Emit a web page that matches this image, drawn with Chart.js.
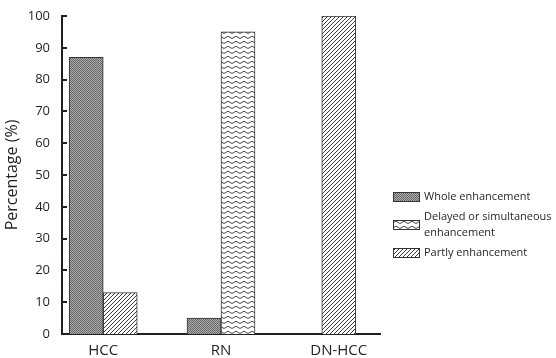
<!DOCTYPE html>
<html><head><meta charset="utf-8">
<script src="https://cdn.jsdelivr.net/npm/chart.js@4"></script>
<style>html,body{margin:0;padding:0;background:#fff}#wrap{width:556px;height:358px}</style>
</head><body><div id="wrap"><canvas id="c" width="556" height="358"></canvas></div>
<script>
// ---- data ----
const categories = ['HCC', 'RN', 'DN-HCC'];
const wholeEnhancement = [87, 5, null];
const delayedEnhancement = [null, 95, null];
const partlyEnhancement = [13, null, 100];
const seriesNames = ['Whole enhancement', 'Delayed or simultaneous enhancement', 'Partly enhancement'];
const yTicks = [0, 10, 20, 30, 40, 50, 60, 70, 80, 90, 100];
const yTitle = 'Percentage (%)';

const INK = '#231f20';
const FONT = "'Open Sans', 'Noto Sans', sans-serif";

function makePattern(kind) {
  const c = document.createElement('canvas');
  let ctx;
  if (kind === 'checker') {
    c.width = 2; c.height = 2; ctx = c.getContext('2d');
    ctx.fillStyle = '#adadad'; ctx.fillRect(0, 0, 2, 2);
    ctx.fillStyle = '#676767'; ctx.fillRect(0, 0, 1, 1); ctx.fillRect(1, 1, 1, 1);
  } else if (kind === 'zigzag') {
    c.width = 8; c.height = 5; ctx = c.getContext('2d');
    ctx.fillStyle = '#fff'; ctx.fillRect(0, 0, 8, 5);
    ctx.strokeStyle = '#4a4a4a'; ctx.lineWidth = 1;
    ctx.beginPath(); ctx.moveTo(0, 3.5); ctx.lineTo(4, 1.2); ctx.lineTo(8, 3.5); ctx.stroke();
  } else {
    c.width = 4; c.height = 4; ctx = c.getContext('2d');
    ctx.fillStyle = '#fff'; ctx.fillRect(0, 0, 4, 4);
    ctx.strokeStyle = '#3a3a3a'; ctx.lineWidth = 1;
    ctx.beginPath();
    ctx.moveTo(-1, 5); ctx.lineTo(5, -1);
    ctx.moveTo(-1, 1); ctx.lineTo(1, -1);
    ctx.moveTo(3, 5); ctx.lineTo(5, 3);
    ctx.stroke();
  }
  return c.getContext('2d').createPattern(c, 'repeat');
}
const patterns = [makePattern('checker'), makePattern('zigzag'), makePattern('hatch')];

function toPoints(arr) { return categories.map((c, i) => ({ x: i, y: arr[i] })); }

const seriesValues = [wholeEnhancement, delayedEnhancement, partlyEnhancement];
const datasets = seriesValues.map((vals, k) => ({
  label: seriesNames[k],
  data: toPoints(vals),
  backgroundColor: patterns[k],
  borderColor: '#333',
  borderWidth: 1,
  barThickness: 34,
  skipNull: true
}));

// inward tick marks on y axis
const inwardTicks = {
  id: 'inwardTicks',
  afterDatasetsDraw(chart) {
    const y = chart.scales.y, ctx = chart.ctx, left = chart.chartArea.left;
    ctx.save();
    ctx.strokeStyle = INK; ctx.lineWidth = 2;
    yTicks.forEach(v => {
      const py = Math.round(y.getPixelForValue(v));
      ctx.beginPath(); ctx.moveTo(left, py); ctx.lineTo(left + 5, py); ctx.stroke();
    });
    ctx.restore();
  }
};

// legend drawn to the right of the plot
const sideLegend = {
  id: 'sideLegend',
  afterDraw(chart) {
    const ctx = chart.ctx;
    ctx.save();
    ctx.font = '11px ' + FONT;
    const lineH = 16, gap = 4, maxW = 132;
    const x0 = chart.chartArea.right + 13;
    let top = 188.5;
    seriesNames.forEach((name, k) => {
      const words = name.split(' ');
      const lines = [];
      let cur = '';
      words.forEach(w => {
        const t = cur ? cur + ' ' + w : w;
        if (ctx.measureText(t).width > maxW && cur) { lines.push(cur); cur = w; } else cur = t;
      });
      lines.push(cur);
      const h = lines.length * lineH;
      const cy = top + h / 2;
      ctx.fillStyle = patterns[k];
      ctx.fillRect(x0, Math.round(cy - 5), 27, 10);
      ctx.strokeStyle = '#333'; ctx.lineWidth = 1;
      ctx.strokeRect(x0 + 0.5, Math.round(cy - 5) + 0.5, 26, 9);
      ctx.fillStyle = INK; ctx.textBaseline = 'middle'; ctx.textAlign = 'left';
      lines.forEach((ln, j) => ctx.fillText(ln, x0 + 31, top + lineH * j + lineH / 2));
      top += h + gap;
    });
    ctx.restore();
  }
};

new Chart(document.getElementById('c'), {
  type: 'bar',
  data: { datasets },
  options: {
    responsive: false,
    devicePixelRatio: 1,
    animation: false,
    layout: { padding: { top: 16, right: 176, bottom: 0, left: 0 } },
    plugins: { legend: { display: false }, tooltip: { enabled: false } },
    scales: {
      x: {
        type: 'linear', min: -0.35, max: 2.35, offset: false,
        grid: { display: false, offset: false },
        border: { display: true, color: INK, width: 2 },
        afterBuildTicks: s => { s.ticks = categories.map((c, i) => ({ value: i })); },
        ticks: {
          callback: v => categories[v] ?? '',
          font: { family: FONT, size: 15 }, color: INK, padding: 0,
          maxRotation: 0, autoSkip: false
        },
        afterFit: s => { s.height = 24; }
      },
      y: {
        min: 0, max: 100,
        grid: { display: false },
        border: { display: true, color: INK, width: 2 },
        afterBuildTicks: s => { s.ticks = yTicks.map(v => ({ value: v })); },
        ticks: { font: { family: FONT, size: 13 }, color: INK, padding: 4 },
        title: { display: true, text: yTitle, font: { family: FONT, size: 16 }, color: INK, padding: { top: 3, bottom: 2 } },
        afterFit: s => { s.width = 62; }
      }
    }
  },
  plugins: [inwardTicks, sideLegend]
});
</script>
</body></html>
